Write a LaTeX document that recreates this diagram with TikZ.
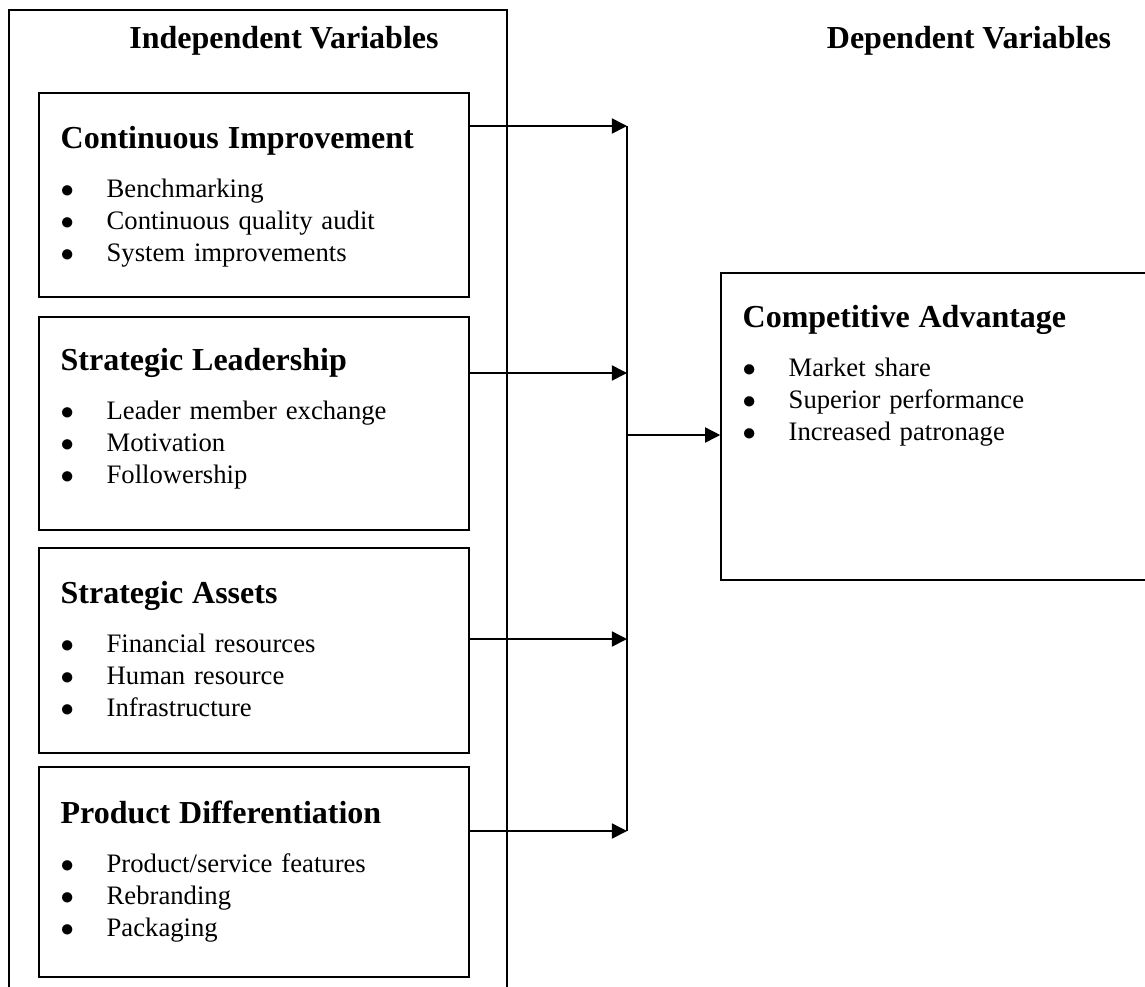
\documentclass[tikz,border=0pt]{standalone}
\usepackage{fontspec}
\setmainfont{Liberation Serif}
\usetikzlibrary{arrows.meta,calc,fit}

\newcommand{\boxtitle}[1]{{\fontsize{14.4}{14.4}\selectfont\bfseries\rule{0pt}{10pt}#1\par}\vspace{7.6pt}}
\newcommand{\bul}[1]{\makebox[20.7pt][l]{$\bullet$}#1\par}

\begin{document}
\begin{tikzpicture}[
    x=0.45pt, y=-0.45pt,
    box/.style={rectangle, draw, line width=0.7pt, inner sep=0pt},
    boxtext/.style={anchor=north west, inner sep=0pt, text width=185pt, align=left, font=\fontsize{12}{14.4}\selectfont},
    head/.style={anchor=base, inner sep=0pt, font=\fontsize{14.4}{14.4}\selectfont\bfseries},
    arrow/.style={-{Triangle[length=6.8pt,width=6.8pt]}, line width=0.7pt}
]
\useasboundingbox (0,0) rectangle (1145,986);

% headings
\node[head] (iv) at (284,48) {Independent Variables};
\node[head] (dv) at (969,48) {Dependent Variables};
\draw[line width=0.7pt] (9,990) -- (9,10) -- (507,10) -- (507,990);

% independent variable boxes
\node[box, fit={(39,93) (469,297)}] (ci) {};
\node[boxtext] (citext) at ($(ci.north west)+(22,34)$) {\boxtitle{Continuous Improvement}
  \bul{Benchmarking}\bul{Continuous quality audit}\bul{System improvements}};

\node[box, fit={(39,317) (469,530)}] (sl) {};
\node[boxtext] (sltext) at ($(sl.north west)+(22,32)$) {\boxtitle{Strategic Leadership}
  \bul{Leader member exchange}\bul{Motivation}\bul{Followership}};

\node[box, fit={(39,548) (469,753)}] (sa) {};
\node[boxtext] (satext) at ($(sa.north west)+(22,34)$) {\boxtitle{Strategic Assets}
  \bul{Financial resources}\bul{Human resource}\bul{Infrastructure}};

\node[box, fit={(39,767) (469,977)}] (pd) {};
\node[boxtext] (pdtext) at ($(pd.north west)+(22,34)$) {\boxtitle{Product Differentiation}
  \bul{Product/service features}\bul{Rebranding}\bul{Packaging}};

% dependent variable box
\node[box, fit={(721,273) (1160,580)}] (ca) {};
\node[boxtext] (catext) at ($(ca.north west)+(22,33)$) {\boxtitle{Competitive Advantage}
  \bul{Market share}\bul{Superior performance}\bul{Increased patronage}};

% connectors
\coordinate (j1) at (627,126);
\coordinate (j2) at (627,373);
\coordinate (j3) at (627,639);
\coordinate (j4) at (627,831);
\coordinate (jc) at (627,435);
\draw[arrow] (ci.east |- j1) -- (j1);
\draw[arrow] (sl.east |- j2) -- (j2);
\draw[arrow] (sa.east |- j3) -- (j3);
\draw[arrow] (pd.east |- j4) -- (j4);
\draw[line width=0.7pt] (j1) -- (j4);
\draw[arrow] (jc) -- (ca.west |- jc);
\end{tikzpicture}
\end{document}
